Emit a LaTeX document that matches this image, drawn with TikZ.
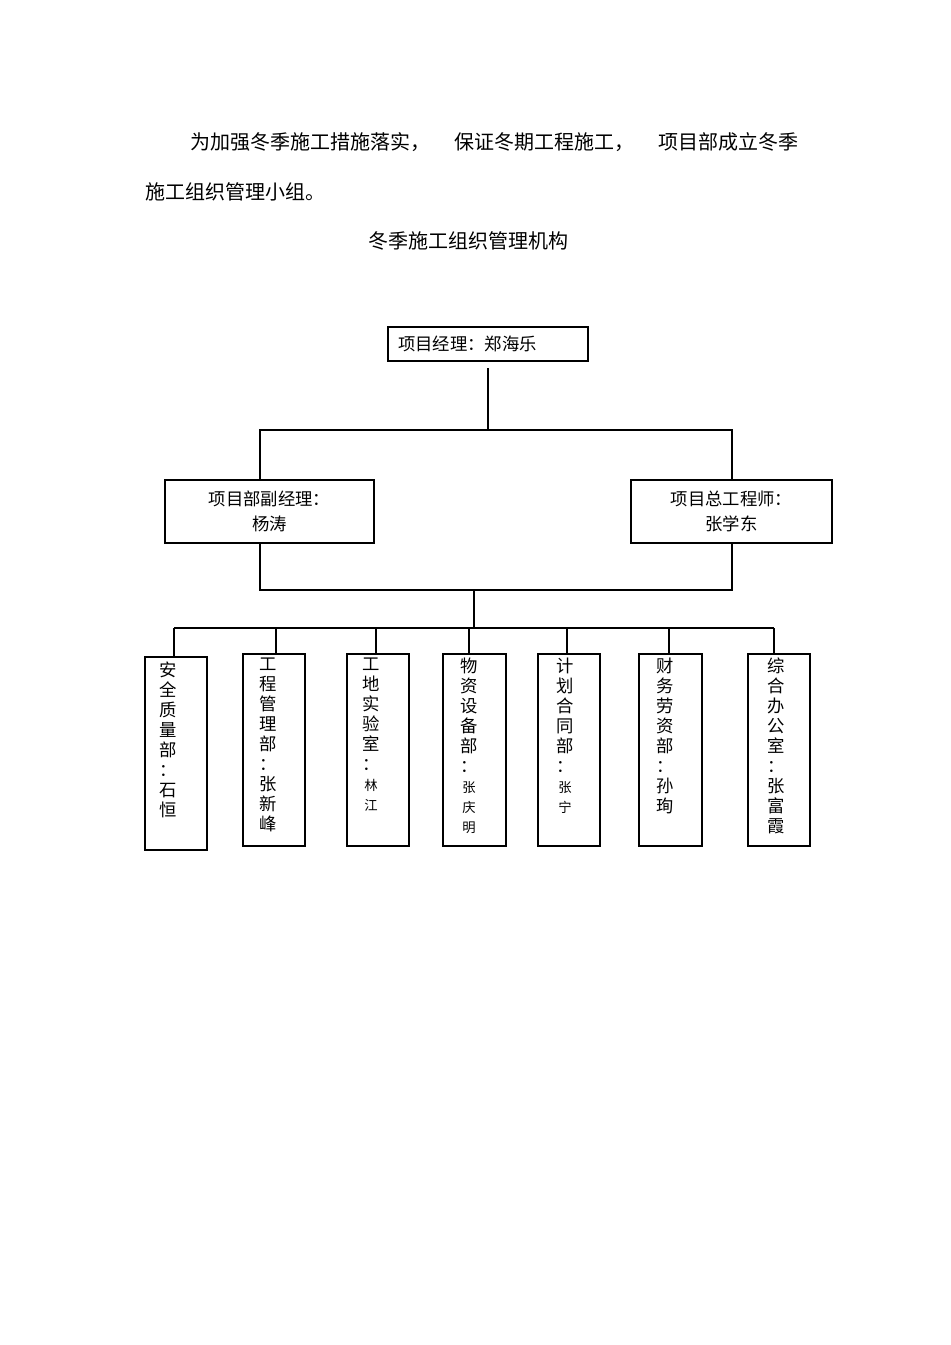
\documentclass[tikz,border=0pt]{standalone}
\usepackage{fontspec}
\newfontfamily\cjk{Noto Sans CJK SC}
\begin{document}
\begin{tikzpicture}[x=0.75pt,y=-0.75pt,
  bx/.style={draw,line width=0.8pt},
  ln/.style={line width=0.8pt},
  txt/.style={font=\cjk\fontsize{13}{15}\selectfont,inner sep=0pt},
  ptxt/.style={font=\cjk\fontsize{15}{17}\selectfont,inner sep=0pt},
  vt/.style={font=\cjk\fontsize{13}{15}\selectfont,align=center,inner sep=0pt,anchor=north}]
\useasboundingbox (0,0) rectangle (950,1345);
\node[ptxt,anchor=west] (p1) at (190,142) {为加强冬季施工措施落实，\hspace{1.2em}保证冬期工程施工，\hspace{1.2em}项目部成立冬季};
\node[ptxt,anchor=west] (p2) at (145,192) {施工组织管理小组。};
\node[ptxt] (title) at (468,241) {冬季施工组织管理机构};
\node[bx,minimum width=150pt,minimum height=25.5pt] (pm) at (488,344) {};
\node[txt,anchor=west] at (398,344) {项目经理：郑海乐};
\node[bx,minimum width=156.75pt,minimum height=47.25pt,align=center,font=\cjk\fontsize{13}{19}\selectfont] (dm) at (269.5,511.5) {项目部副经理：\\杨涛};
\node[bx,minimum width=150.75pt,minimum height=47.25pt,align=center,font=\cjk\fontsize{13}{19}\selectfont] (ce) at (731.5,511.5) {项目总工程师：\\张学东};
\coordinate (a0) at (488,368);
\coordinate (a1) at (488,430);
\draw[ln,line width=1.6pt] (a0) -- (a1);
\draw[ln] (260,480) -- (260,430) -- (732,430) -- (732,480);
\draw[ln] (260,543) -- (260,590) -- (732,590) -- (732,543);
\draw[ln] (474,590) -- (474,628);
\draw[ln] (174,628) -- (774,628);
\foreach \l/\r/\t/\b/\c/\name in {
145/207/657/850/174/b1,243/305/654/846/276/b2,347/409/654/846/376/b3,443/506/654/846/469/b4,538/600/654/846/567/b5,639/702/654/846/669/b6,748/810/654/846/774/b7}{
  \draw[bx] (\l,\t) rectangle (\r,\b);
  \draw[ln] (\c,628) -- (\c,\t);
}
\node[vt] (t1) at (168,662) {安\\全\\质\\量\\部\\：\\石\\恒};
\node[vt] (t2) at (268,658) {工\\程\\管\\理\\部\\：\\张\\新\\峰};
\node[vt] (t3) at (371,658) {工\\地\\实\\验\\室\\：\\{\fontsize{10}{15}\selectfont 林}\\{\fontsize{10}{15}\selectfont 江}};
\node[vt] (t4) at (469,658) {物\\资\\设\\备\\部\\：\\{\fontsize{10}{15}\selectfont 张}\\{\fontsize{10}{15}\selectfont 庆}\\{\fontsize{10}{15}\selectfont 明}};
\node[vt] (t5) at (565,658) {计\\划\\合\\同\\部\\：\\{\fontsize{10}{15}\selectfont 张}\\{\fontsize{10}{15}\selectfont 宁}};
\node[vt] (t6) at (665,658) {财\\务\\劳\\资\\部\\：\\孙\\珣};
\node[vt] (t7) at (776,658) {综\\合\\办\\公\\室\\：\\张\\富\\霞};
\end{tikzpicture}
\end{document}
